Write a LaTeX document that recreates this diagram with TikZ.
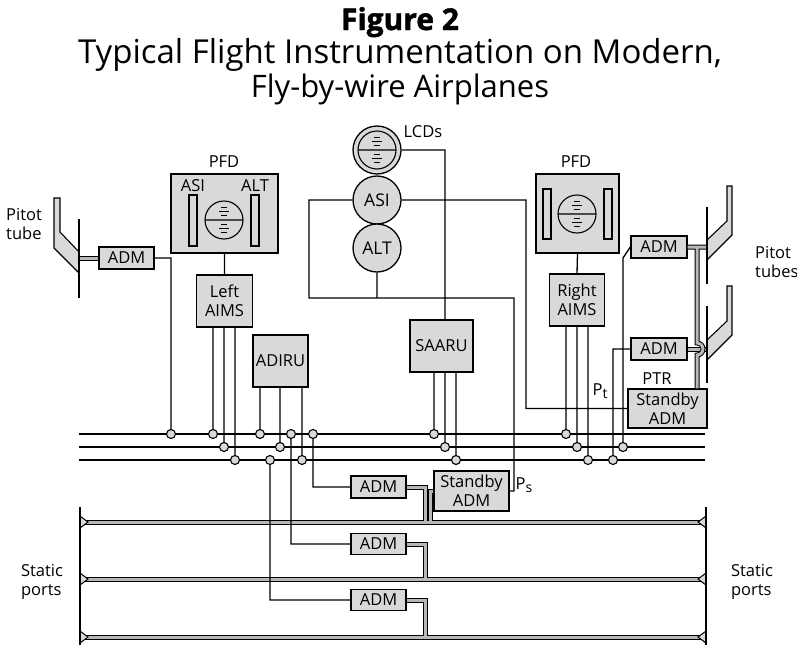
\documentclass[tikz,border=0pt]{standalone}
\usepackage{fontspec}
\setmainfont{Open Sans}
\newfontfamily\figfont[BoldFeatures={FakeBold=1.5}]{Open Sans}
\definecolor{boxgray}{gray}{0.85}
\definecolor{pipegray}{gray}{0.72}
\tikzset{
	unit/.style={draw, fill=boxgray, line width=1.3pt, inner sep=0pt, align=center, font=\fontsize{16.5}{19}\selectfont},
	dial/.style={circle, draw, fill=boxgray, line width=1.3pt, minimum size=48pt, inner sep=0pt, font=\fontsize{17.5}{19}\selectfont},
	tap/.style={circle, draw, fill=boxgray, line width=1.1pt, minimum size=9pt, inner sep=0pt},
	wire/.style={line width=1.3pt},
	pipe/.style={line width=1pt, double=pipegray, double distance=3pt},
	tube/.style={draw, fill=boxgray, line width=1.1pt},
	tag/.style={inner sep=0pt, font=\fontsize{16.5}{19}\selectfont, align=left},
	bar/.style={draw, fill=boxgray, line width=1.1pt},
	headline/.style={anchor=base, inner sep=0pt, font=\fontsize{#1}{#1}\selectfont},
	adi/.pic={
		\draw[line width=1.1pt] (0,0) circle[radius=19] (-19,0) -- (19,0);
		\foreach \off/\hw in {4.5/3,8.5/5,12.5/3} {
			\draw[line width=1pt] (-\hw,\off) -- (\hw,\off) (-\hw,-\off) -- (\hw,-\off);
		}
	}
}
\begin{document}
\begin{tikzpicture}[x=1pt, y=-1pt]
	\path[use as bounding box, fill=white] (0,0) rectangle (797,645);

	\node[headline=30] (fig) at (400,30) {\figfont\bfseries Figure 2};
	\node[headline=33] (title1) at (400,63) {Typical Flight Instrumentation on Modern,};
	\node[headline=31] (title2) at (400,97) {Fly-by-wire Airplanes};

	\draw[wire] \foreach \y in {434,447,460} {(79,\y) -- (705,\y)};

	\coordinate (fusL) at (79,258);
	\coordinate (fusR) at (707,0);
	\coordinate (branch) at (697,247);
	\coordinate (loopW) at (309,298);
	\coordinate (loopE) at (514,298);
	\coordinate (ptBend) at (526,408.5);
	\coordinate (kinkRU) at (623,258);

	\node[unit, minimum width=55pt, minimum height=22pt] (admL) at (126.5,258) {ADM};
	\node[unit, minimum width=107pt, minimum height=79pt] (pfdL) at (224.5,213.5) {};
	\node[unit, minimum width=56pt, minimum height=52pt] (aimsL) at (224.5,301) {Left\\AIMS};
	\node[unit, minimum width=55pt, minimum height=52pt] (adiru) at (280.5,361) {ADIRU};
	\node[unit, minimum width=63pt, minimum height=52pt] (saaru) at (441.5,346) {SAARU};
	\node[unit, minimum width=83pt, minimum height=79pt] (pfdR) at (577.5,213.5) {};
	\node[unit, minimum width=55pt, minimum height=52pt] (aimsR) at (577,300) {Right\\AIMS};
	\node[unit, minimum width=56pt, minimum height=22pt] (admRU) at (659,247) {ADM};
	\node[unit, minimum width=56pt, minimum height=22pt] (admRL) at (659,349) {ADM};
	\node[unit, minimum width=79pt, minimum height=39pt] (stbyR) at (667.5,408.5) {Standby\\ADM};
	\node[unit, minimum width=55pt, minimum height=22pt] (adm1) at (378.5,487) {ADM};
	\node[unit, minimum width=75pt, minimum height=40pt] (stbyL) at (471.5,491) {Standby\\ADM};
	\node[unit, minimum width=55pt, minimum height=21pt] (adm2) at (378.5,544) {ADM};
	\node[unit, minimum width=55pt, minimum height=21pt] (adm3) at (378.5,600) {ADM};

	\draw[bar] (189,195) rectangle (197,246) (251,195) rectangle (259,246);
	\pic at (224,220) {adi};
	\draw[bar] (543,189) rectangle (551,239) (604,189) rectangle (612,239);
	\pic at (577,214) {adi};

	\node[dial] (lcd) at (377,150) {};
	\pic at (lcd) {adi};
	\node[dial] (asi) at (377,200) {ASI};
	\node[dial] (alt) at (377,248) {ALT};

	\draw[pipe] (fusL |- admL.west) -- (admL.west);
	\draw[pipe] (admRL.east) -- (admRL.east -| fusR);
	\draw[pipe]
		(admRU.east) -- (admRU.east -| fusR)
		(branch) -- ++(0,96) arc[start angle=-90, end angle=90, radius=6] -- (branch |- stbyR.north);
	\draw[pipe]
		\foreach \y in {522,579,637} {(80,\y) -- (706,\y)}
		(adm1.east) -| (425,522)
		(stbyL.west) -| (430,522)
		(adm2.east) -| (425,579)
		(adm3.east) -| (425,637);
	\foreach \y in {522,579,637}
		\filldraw[fill=boxgray, line width=1pt]
			(80,\y-6) -- (88,\y) -- (80,\y+6) -- cycle
			(706,\y-6) -- (698,\y) -- (706,\y+6) -- cycle;
	\draw[wire] (80,507) -- (80,645) (706,507) -- (706,645);

	\draw[tube] (54,198) -- (60,198) -- (60,232) -- (79,252) -- (79,273) -- (54,248) -- cycle;
	\foreach \dy in {0,100}
		\draw[tube] (727,186+\dy) -- (732,186+\dy) -- (732,235+\dy) -- (707,260+\dy) -- (707,240+\dy) -- (727,221+\dy) -- cycle;
	\draw[wire] (79,219) -- (79,298) (707,207) -- (707,284) (707,306) -- (707,383);

	\foreach \x in {171,213,260,291,313,434,566} \node[tap] (t\x) at (\x,434) {};
	\foreach \x in {224,280,445,577,623} \node[tap] (t\x) at (\x,447) {};
	\foreach \x in {235,270,302,456,588,613} \node[tap] (t\x) at (\x,460) {};

	\draw[wire]
		(admL.east) -| (t171)
		(pfdL.south) -- (aimsL.north)
		(pfdR.south) -- (aimsR.north)
		\foreach \x in {213,224,235} {(t\x |- aimsL.south) -- (t\x)}
		\foreach \x in {260,280,302} {(t\x |- adiru.south) -- (t\x)}
		\foreach \x in {434,445,456} {(t\x |- saaru.south) -- (t\x)}
		\foreach \x in {566,577,588} {(t\x |- aimsR.south) -- (t\x)}
		(t291) |- (adm2.west)
		(t313) |- (adm1.west)
		(t270) |- (adm3.west)
		(lcd.east) -| (t445 |- saaru.north)
		(asi.west) -| (loopW) -- (loopE) |- (stbyL.east)
		(alt.south) -- (alt.south |- loopW)
		(asi.east) -| (ptBend) -- (stbyR.west)
		(t623) -- (kinkRU) -- (admRU.west)
		(t613) |- (admRL.west);

	\node[tag] (asiTag) at (193,186) {ASI};
	\node[tag] (altTag) at (255,186) {ALT};
	\node[tag] (pfdLTag) at (224,162) {PFD};
	\node[tag] (pfdRTag) at (576,162) {PFD};
	\node[tag] (lcdTag) at (423,132) {LCDs};
	\node[tag] (ptrTag) at (657,379) {PTR};
	\node[tag] (ptTag) at (600,391) {P\raisebox{-0.4ex}{\fontsize{14}{14}\selectfont t}};
	\node[tag] (psTag) at (524,485) {P\raisebox{-0.4ex}{\fontsize{14}{14}\selectfont s}};
	\node[tag, anchor=west] (pitotL) at (6,224) {Pitot\\tube};
	\node[tag, anchor=west] (pitotR) at (755,262) {Pitot\\tubes};
	\node[tag] (staticL) at (42,582) {Static\\ports};
	\node[tag] (staticR) at (752,582) {Static\\ports};
\end{tikzpicture}
\end{document}
